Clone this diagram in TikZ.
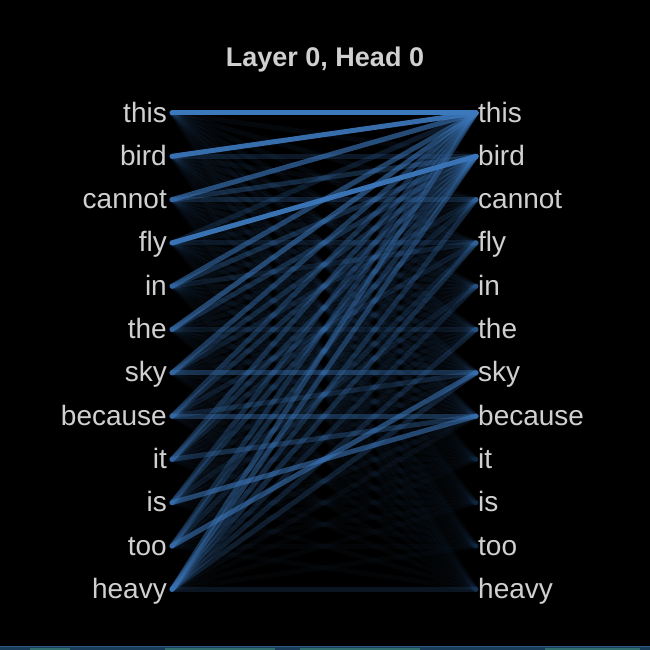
\documentclass[tikz,border=0pt]{standalone}
\usepackage{fontspec}
\setmainfont{Liberation Sans}
\definecolor{bg}{RGB}{0,0,0}
\definecolor{txt}{RGB}{208,208,208}
\definecolor{att}{RGB}{60,120,188}
\definecolor{stripA}{RGB}{44,88,128}
\definecolor{stripB}{RGB}{26,60,88}
\definecolor{stripC}{RGB}{50,110,110}
\begin{document}
\begin{tikzpicture}[x=1pt,y=-1pt,
  word/.style={text=txt,font=\fontsize{28}{30}\selectfont,inner sep=0pt,text height=22pt,text depth=4pt},
  lw/.style={word,anchor=east},
  rw/.style={word,anchor=west},
  attn/.style={draw=att,line width=5pt,line cap=round}]
\fill[bg] (0,0) rectangle (650,650);
\useasboundingbox (0,0) rectangle (650,650);
\fill[stripB] (0,646) rectangle (650,650);
\fill[stripC] (30,648) rectangle (70,650);
\fill[stripC] (165,648) rectangle (275,650);
\fill[stripC] (300,648) rectangle (420,650);
\fill[stripC] (545,648) rectangle (640,650);
\draw[stripA,line width=1.2pt] (0,646.5) -- (650,646.5);
\node[text=txt,font=\bfseries\fontsize{27}{30}\selectfont,anchor=base] (title) at (325,67) {Layer 0, Head 0};
\foreach \w [count=\k from 0] in {this,bird,cannot,fly,in,the,sky,because,it,is,too,heavy}{
  \pgfmathsetmacro{\yy}{113+43.3*\k}
  \node[lw] (L\k) at (167,\yy) {\w};
  \node[rw] (R\k) at (478,\yy) {\w};
}
% faint background attention
\foreach \i in {0,...,11}{
  \foreach \j in {0,...,11}{
    \pgfmathsetmacro{\op}{\j<8 ? 0.07 : 0.035}
    \draw[attn,opacity=\op] ([xshift=5pt]L\i.east) -- ([xshift=-2pt]R\j.west);
  }
}
% main attention weights: left i -> right j / weight
\foreach \i/\j/\w in {
  0/0/1.0,
  1/0/0.9, 1/1/0.15,
  2/0/0.6, 2/1/0.28, 2/2/0.2,
  3/1/0.95, 3/3/0.12, 3/0/0.15,
  4/0/0.5, 4/1/0.28, 4/3/0.15,
  5/0/0.55, 5/1/0.28, 5/5/0.12,
  6/0/0.4, 6/1/0.25, 6/6/0.35, 6/2/0.15,
  7/0/0.3, 7/1/0.25, 7/6/0.2, 7/7/0.35, 7/3/0.15,
  8/0/0.3, 8/1/0.25, 8/7/0.3, 8/2/0.15,
  9/0/0.25, 9/1/0.25, 9/7/0.55, 9/4/0.12,
  10/0/0.25, 10/1/0.25, 10/6/0.55, 10/3/0.15,
  11/0/0.4, 11/1/0.4, 11/2/0.25, 11/3/0.25, 11/5/0.18, 11/6/0.18, 11/11/0.15, 11/4/0.15}{
  \draw[attn,opacity=\w] ([xshift=5pt]L\i.east) -- ([xshift=-2pt]R\j.west);
}
\end{tikzpicture}
\end{document}
